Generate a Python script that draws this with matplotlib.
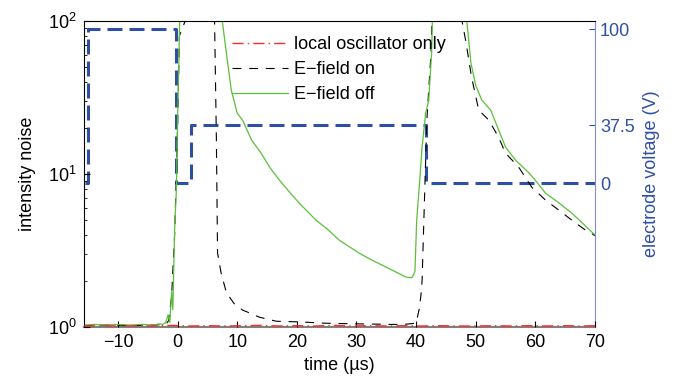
import numpy as np
import matplotlib
matplotlib.use('Agg')
import matplotlib.pyplot as plt

plt.rcParams['font.family'] = ['Liberation Sans', 'DejaVu Sans']
plt.rcParams['mathtext.fontset'] = 'custom'
plt.rcParams['mathtext.rm'] = 'Liberation Sans'
plt.rcParams['font.size'] = 13

# E-field off (green)
t_off = [-15.7, -14, -12, -10, -8, -6, -4, -3, -2.5, -2, -1.6, -1.3, -1.0, -0.8, -0.5, -0.2,
         0.0, 0.3, 0.6, 7.0, 7.5, 8.0, 9.0, 10.0, 10.9, 12.4, 14.0, 15.5, 17.1, 18.8, 20.4,
         23.2, 25.0, 27.1, 30.4, 32.5, 34.9, 36.5, 38.3, 39.3, 39.8, 40.1, 40.6, 41.0, 41.6,
         42.1, 42.6, 43.0, 48.0, 48.5, 49.2, 50.0, 51.0, 52.5, 53.5, 55.0, 56.7, 58.9, 60.0,
         61.7, 63.9, 66.1, 67.7, 69.4, 70.0]
y_off = [1.03, 1.04, 1.03, 1.04, 1.03, 1.04, 1.03, 1.05, 1.04, 1.07, 1.2, 1.07, 1.7, 1.3, 4.3, 8.0,
         22.5, 80, 300, 300, 100, 70, 35.4, 25.0, 22.5, 16.7, 13.7, 11.0, 9.1, 7.6, 6.46,
         5.0, 4.4, 3.7, 3.05, 2.75, 2.47, 2.3, 2.12, 2.1, 2.3, 5.0, 9.0, 15.0, 25.0,
         30.0, 62.0, 300, 300, 100, 53, 38, 30.5, 26.2, 21.0, 15.0, 12.3, 10.2, 9.1,
         7.5, 6.5, 5.56, 4.86, 4.2, 4.0]

# E-field on (black)
t_on = [-15.7, -12, -8, -4, -2, -1.5, -1.0, -0.5, 0.0, 0.3, 6.0, 6.2, 6.5, 6.7, 7.3, 8.2, 8.7,
        9.5, 10.9, 12.2, 13.7, 16.6, 20.6, 24.4, 29.0, 32.8, 35.5, 38.0, 40.0, 40.5, 40.8,
        41.0, 41.3, 41.8, 42.5, 43.0, 47.4, 47.7, 48.3, 49.3, 50.5, 52.2, 53.8, 55.0, 57.2,
        59.4, 61.7, 63.9, 66.1, 68.4, 69.4, 70.0]
y_on = [1.02, 1.03, 1.02, 1.03, 1.04, 1.1, 1.6, 4.0, 20, 80, 300, 100, 17.5, 3.05, 2.25, 1.67, 1.57,
        1.42, 1.29, 1.23, 1.16, 1.09, 1.08, 1.06, 1.05, 1.045, 1.04, 1.04, 1.06, 1.3, 1.6,
        2.0, 5.0, 22.5, 62, 300, 300, 100, 75, 43, 26.2, 22.5, 17.5, 13.7, 11.1,
        8.2, 6.76, 5.82, 5.0, 4.3, 4.1, 3.95]

# local oscillator only (red)
t_lo = [-15.7, -13, -10, -7, -4, -1, 2, 5, 8, 11, 14, 17, 20, 23, 26, 29, 32, 35, 38,
        41, 44, 47, 50, 53, 56, 59, 62, 65, 68, 70]
y_lo = [1.015, 1.02, 1.015, 1.02, 1.015, 1.025, 1.015, 1.02, 1.015, 1.02, 1.025, 1.015, 1.02,
        1.015, 1.025, 1.015, 1.02, 1.015, 1.02, 1.015, 1.02, 1.015, 1.015, 1.02, 1.015, 1.02,
        1.015, 1.02, 1.015, 1.02]

# electrode voltage (blue, right axis)
t_v = [-15.5, -15.0, -15.0, -0.2, -0.2, 2.3, 2.3, 41.6, 41.6, 70.0]
v = [0, 0, 100, 100, 0, 0, 37.5, 37.5, 0, 0]

fig = plt.figure(figsize=(6.8, 3.77), dpi=100)
ax = fig.add_axes([0.1235, 0.1326, 0.7515, 0.8114])
ax2 = ax.twinx()

blue = '#2f4ea6'
ax2.plot(t_v, v, color=blue, lw=2.2, dashes=(4.9, 2.3), zorder=1)

ax.plot(t_lo, y_lo, color='#ff2a2a', lw=1.0, linestyle=(0, (8, 3, 1, 3)),
        label='local oscillator only', zorder=3)
ax.plot(t_on, y_on, color='black', lw=0.8, linestyle=(0, (8, 7)), label='E\u2212field on')
ax.plot(t_off, y_off, color='#5cbf3a', lw=0.9, label='E\u2212field off')

ax.set_zorder(ax2.get_zorder() + 1)
ax.patch.set_visible(False)

ax.set_yscale('log')
ax.set_xlim(-15.7, 70)
ax.set_ylim(1, 100)
ax.set_xticks([-10, 0, 10, 20, 30, 40, 50, 60, 70])
ax.set_xticklabels(['\u221210', '0', '10', '20', '30', '40', '50', '60', '70'])
ax.tick_params(which='both', direction='in', right=False, top=False)
ax.tick_params(which='major', length=4, pad=5)
ax.tick_params(which='minor', length=2)
ax.set_xlabel('time (\u00b5s)', labelpad=4)
ax.set_ylabel('intensity noise', labelpad=9)
ax.spines['bottom'].set_color('#808080')
ax.spines['bottom'].set_linewidth(1.5)
ax.spines['bottom'].set_zorder(1)
ax.spines['right'].set_visible(False)

ax2.set_ylim(-93.5, 105.2)
ax2.set_yticks([0, 37.5, 100])
ax2.set_yticklabels(['0', '37.5', '100'])
ax2.tick_params(direction='in', colors=blue, length=4)
ax2.spines['right'].set_color('#7f90d0')
for s in ['left', 'top', 'bottom']:
    ax2.spines[s].set_visible(False)
ax2.set_ylabel('electrode voltage (V)', color=blue, labelpad=6)

ax.legend(loc='upper left', bbox_to_anchor=((232 - 84) / 511, (327 - 36) / 306),
          frameon=False, borderpad=0, borderaxespad=0, handlelength=3.1,
          handletextpad=0.35, labelspacing=0.45, fontsize=13)

fig.savefig('out.png', dpi=100)
